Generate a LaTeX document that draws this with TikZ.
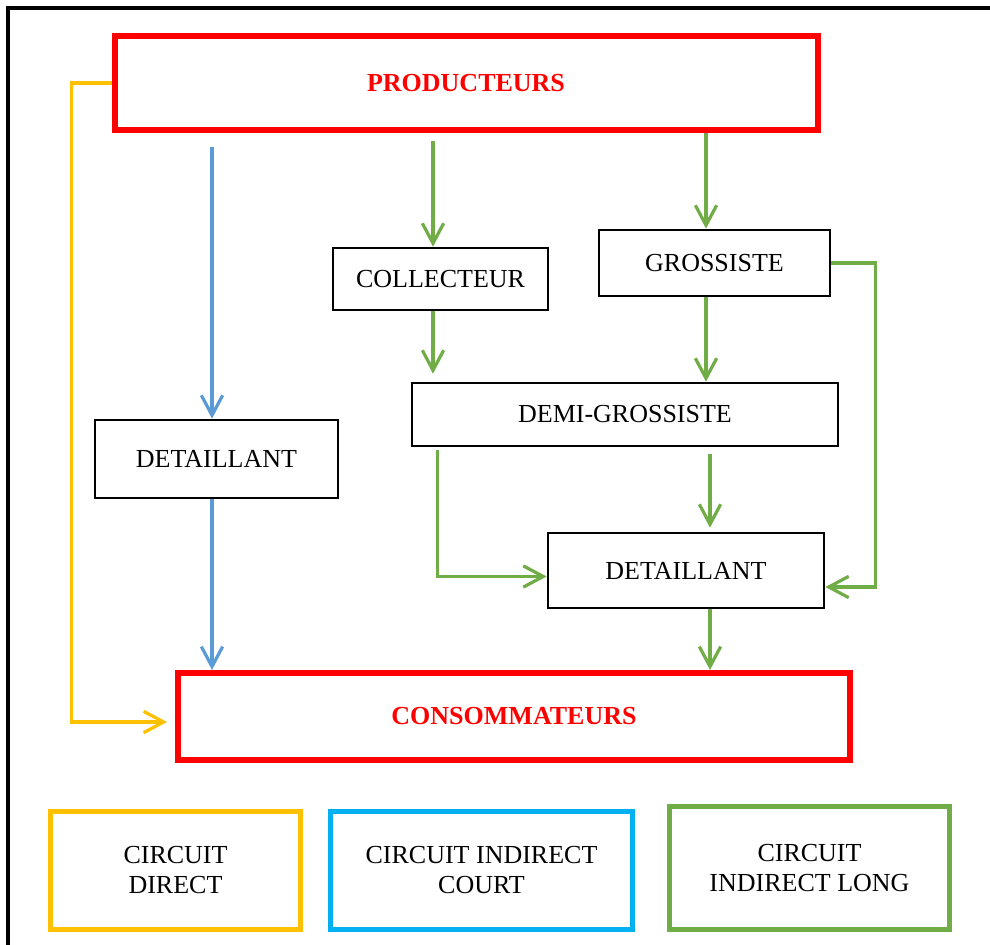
\documentclass[tikz,border=0pt]{standalone}
\usepackage{fontspec}
\setmainfont{Liberation Serif}
\usepackage{xcolor}
\usetikzlibrary{arrows.meta,positioning,calc}

\definecolor{prodred}{HTML}{FF0000}
\definecolor{diryellow}{HTML}{FFC000}
\definecolor{courtblue}{HTML}{5B9BD5}
\definecolor{legblue}{HTML}{00B0F0}
\definecolor{longgreen}{HTML}{70AD47}

\tikzset{
  redbox/.style={draw=prodred, line width=4.5pt, inner sep=0pt, text=prodred, font=\bfseries\fontsize{19.5}{22.5}\selectfont},
  blackbox/.style={draw=black, line width=2pt, inner sep=0pt},
  legbox/.style={draw=#1, line width=3.75pt, inner sep=0pt, align=center},
  flow/.style={draw=#1, line width=2.4pt, -{Straight Barb[length=15pt,width=16pt]}},
}

\begin{document}
\begin{tikzpicture}[x=0.75pt, y=-0.75pt, font=\fontsize{19.5}{22.5}\selectfont]
        \useasboundingbox (0,0) rectangle (990,945);
        % Frame
        \draw[line width=3pt] (7.5,945) |- (990,8);

        % Main chain
        \node[redbox, minimum width=527.25pt, minimum height=70pt] (prod) at (466,83) {PRODUCTEURS};
        \node[blackbox, minimum width=182.25pt, minimum height=58.5pt] (det1) at (216.5,459) {DETAILLANT};
        \node[blackbox, minimum width=161.25pt, minimum height=46.5pt] (coll) at (440.5,279) {COLLECTEUR};
        \node[blackbox, minimum width=173.25pt, minimum height=49.5pt] (gros) at (714.5,263) {GROSSISTE};
        \node[blackbox, minimum width=319.5pt, minimum height=47.25pt] (demi) at (625,414.5) {DEMI-GROSSISTE};
        \node[blackbox, minimum width=207pt, minimum height=56.25pt] (det2) at (686,570.5) {DETAILLANT};
        \node[redbox, minimum width=504pt, minimum height=65.25pt] (cons) at (514,716.5) {CONSOMMATEURS};

        % Circuit direct
        \draw[flow=diryellow, shorten >=6pt] (prod.west) -- ++(-40,0) |- ($(cons.west)+(0,5.5)$);

        % Circuit indirect court
        \draw[flow=courtblue] ($(prod.south -| det1.north)+(-4.5,14)$) -- ($(det1.north)+(-4.5,0)$);
        \draw[flow=courtblue] ($(det1.south)+(-4.5,0)$) -- ($(det1.south |- cons.north)+(-4.5,0)$);

        % Circuit indirect long
        \draw[flow=longgreen] ($(prod.south -| coll.north)+(-7.5,8)$) -- ($(coll.north)+(-7.5,0)$);
        \draw[flow=longgreen] ($(prod.south -| gros.north)+(-8.5,0)$) -- ($(gros.north)+(-8.5,0)$);
        \draw[flow=longgreen, shorten >=6pt] ($(coll.south)+(-7.5,0)$) -- ($(coll.south |- demi.north)+(-7.5,0)$);
        \draw[flow=longgreen] ($(gros.south)+(-8.5,0)$) -- ($(gros.south |- demi.north)+(-8.5,0)$);
        \draw[flow=longgreen] (gros.east) -- ++(44.5,0) |- ($(det2.east)+(0,16.5)$);
        \draw[flow=longgreen] ($(demi.south west)+(26.5,2.5)$) |- ($(det2.west)+(0,6)$);
        \draw[flow=longgreen, shorten >=3pt] ($(demi.south -| det2.north)+(24,6.5)$) -- ($(det2.north)+(24,0)$);
        \draw[flow=longgreen] ($(det2.south)+(24,0)$) -- ($(det2.south |- cons.north)+(24,0)$);

        % Legend
        \node[legbox=diryellow, minimum width=187.5pt, minimum height=88.5pt] (legdir) at (175.5,870.5) {CIRCUIT\\DIRECT};
        \node[legbox=legblue, minimum width=226.5pt, minimum height=88.5pt] (legcourt) at (481.5,870.5) {CIRCUIT INDIRECT\\COURT};
        \node[legbox=longgreen, minimum width=210pt, minimum height=92.25pt] (leglong) at (809.5,868) {CIRCUIT\\INDIRECT LONG};
    \end{tikzpicture}
\end{document}
